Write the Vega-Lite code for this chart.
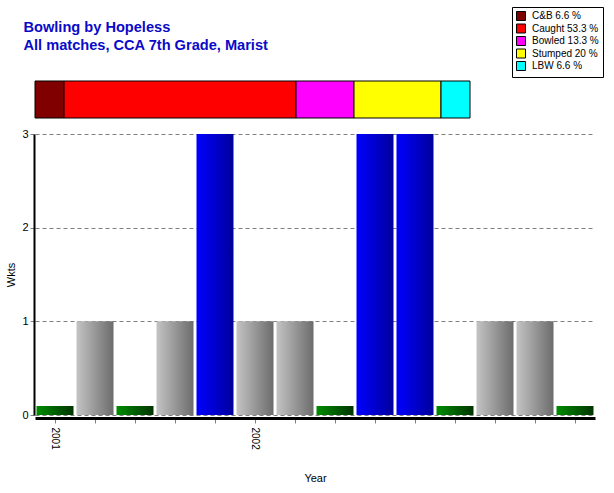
{
  "$schema": "https://vega.github.io/schema/vega-lite/v6.json",
  "autosize": {"type": "pad"},
  "padding": {"left": 5, "top": 6, "right": 5, "bottom": 5},
  "bounds": "flush",
  "spacing": 16,
  "background": "white",
  "config": {
    "font": "Liberation Sans",
    "view": {"stroke": null}
  },
  "datasets": {
    "dismissals": [
      {"label": "C&B 6.6 %", "n": 1, "order": 1},
      {"label": "Caught 53.3 %", "n": 8, "order": 2},
      {"label": "Bowled 13.3 %", "n": 2, "order": 3},
      {"label": "Stumped 20 %", "n": 3, "order": 4},
      {"label": "LBW 6.6 %", "n": 1, "order": 5}
    ],
    "matches": [
      {"match": 1, "year": 2001, "wickets": 0},
      {"match": 2, "year": 2001, "wickets": 1},
      {"match": 3, "year": 2001, "wickets": 0},
      {"match": 4, "year": 2001, "wickets": 1},
      {"match": 5, "year": 2001, "wickets": 3},
      {"match": 6, "year": 2002, "wickets": 1},
      {"match": 7, "year": 2002, "wickets": 1},
      {"match": 8, "year": 2002, "wickets": 0},
      {"match": 9, "year": 2002, "wickets": 3},
      {"match": 10, "year": 2002, "wickets": 3},
      {"match": 11, "year": 2002, "wickets": 0},
      {"match": 12, "year": 2002, "wickets": 1},
      {"match": 13, "year": 2002, "wickets": 1},
      {"match": 14, "year": 2002, "wickets": 0}
    ]
  },
  "vconcat": [
    {
      "width": 435,
      "height": 37,
      "data": {"name": "dismissals"},
      "title": {
        "text": ["Bowling by Hopeless", "All matches, CCA 7th Grade, Marist"],
        "anchor": "start",
        "dx": -11,
        "offset": 28,
        "fontSize": 14.6,
        "fontWeight": "bold",
        "lineHeight": 18,
        "color": "#0a0ac8"
      },
      "mark": {"type": "bar", "orient": "horizontal", "stroke": "black", "strokeWidth": 1},
      "encoding": {
        "x": {
          "field": "n",
          "type": "quantitative",
          "stack": "zero",
          "scale": {"domain": [0, 15], "nice": false},
          "axis": null
        },
        "y": {"value": 0},
        "y2": {"value": "height"},
        "order": {"field": "order", "type": "quantitative"},
        "color": {
          "field": "label",
          "type": "nominal",
          "scale": {
            "domain": ["C&B 6.6 %", "Caught 53.3 %", "Bowled 13.3 %", "Stumped 20 %", "LBW 6.6 %"],
            "range": ["#800000", "#ff0000", "#ff00ff", "#ffff00", "#00ffff"]
          },
          "legend": {
            "orient": "none",
            "legendX": 477,
            "legendY": -74,
            "title": null,
            "symbolType": "square",
            "symbolSize": 81,
            "symbolStrokeColor": "black",
            "symbolStrokeWidth": 1,
            "labelFontSize": 10,
            "labelColor": "black",
            "labelOffset": 6,
            "rowPadding": -1.5,
            "padding": 4,
            "strokeColor": "black",
            "fillColor": "white"
          }
        }
      }
    },
    {
      "width": 560,
      "height": 281,
      "data": {"name": "matches"},
      "encoding": {
        "x": {
          "field": "match",
          "type": "ordinal",
          "title": "Year",
          "scale": {"paddingInner": 0.075, "paddingOuter": 0.0375},
          "axis": {
            "labelAngle": 90,
            "labelAlign": "left",
            "labelBaseline": "middle",
            "labelExpr": "datum.value == 1 ? '2001' : datum.value == 6 ? '2002' : ''",
            "labelFontSize": 10,
            "labelColor": "black",
            "labelPadding": 4,
            "tickSize": 5,
            "tickColor": "#808080",
            "domainColor": "black",
            "domainWidth": 3,
            "offset": 3,
            "titleFontSize": 11,
            "titleFontWeight": "normal",
            "titleColor": "black",
            "titlePadding": 23
          }
        },
        "y": {
          "field": "wickets",
          "type": "quantitative",
          "title": "Wkts",
          "stack": null,
          "scale": {"domain": [0, 3], "nice": false},
          "axis": {
            "values": [0, 1, 2, 3],
            "grid": true,
            "gridDash": [4, 3],
            "gridColor": "#808080",
            "domainColor": "black",
            "domainWidth": 2,
            "offset": 1,
            "tickColor": "#808080",
            "tickSize": 4,
            "labelFontSize": 11,
            "labelColor": "black",
            "labelPadding": 2,
            "titleFontSize": 11,
            "titleFontWeight": "normal",
            "titleColor": "black",
            "titlePadding": 5
          }
        }
      },
      "layer": [
        {
          "transform": [{"filter": "datum.wickets == 0"}],
          "mark": {
            "type": "bar",
            "yOffset": -9,
            "color": {
              "gradient": "linear",
              "stops": [
                {"offset": 0, "color": "#008c00"},
                {"offset": 1, "color": "#003400"}
              ]
            }
          }
        },
        {
          "transform": [{"filter": "datum.wickets == 1"}],
          "mark": {
            "type": "bar",
            "color": {
              "gradient": "linear",
              "stops": [
                {"offset": 0, "color": "#c4c4c4"},
                {"offset": 1, "color": "#6c6c6c"}
              ]
            }
          }
        },
        {
          "transform": [{"filter": "datum.wickets == 3"}],
          "mark": {
            "type": "bar",
            "color": {
              "gradient": "linear",
              "stops": [
                {"offset": 0, "color": "#0000ff"},
                {"offset": 1, "color": "#00009c"}
              ]
            }
          }
        }
      ]
    }
  ]
}
